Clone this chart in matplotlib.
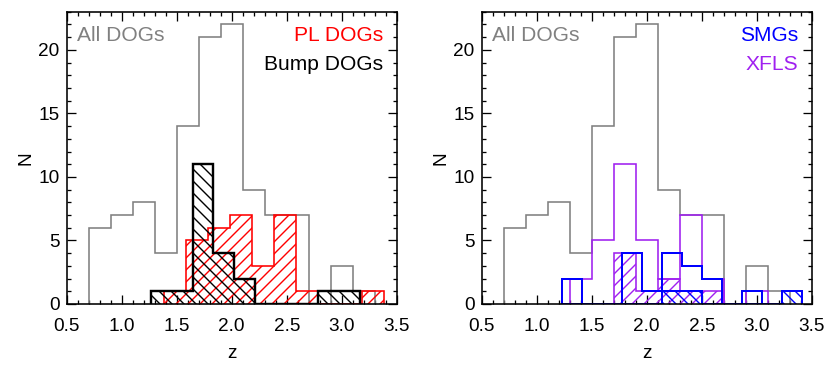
import numpy as np
import matplotlib
matplotlib.use('Agg')
import matplotlib.pyplot as plt
from matplotlib.ticker import MultipleLocator

# redshift histograms (bin edges, counts)
all_edges = [0.7, 0.9, 1.1, 1.3, 1.5, 1.7, 1.9, 2.1, 2.3, 2.5, 2.7, 2.9, 3.1, 3.3]
all_counts = [6, 7, 8, 4, 14, 21, 22, 9, 7, 7, 0, 3, 1]

pl_edges = [1.38, 1.58, 1.78, 1.98, 2.18, 2.38, 2.58, 2.78, 2.98, 3.18, 3.38]
pl_counts = [1, 5, 6, 7, 3, 7, 1, 0, 0, 1]

bump_edges = [1.264, 1.454, 1.644, 1.834, 2.024, 2.214, 2.404, 2.594, 2.784, 2.974, 3.164]
bump_counts = [1, 1, 11, 4, 2, 0, 0, 0, 1, 1]

xfls_edges = [1.3, 1.5, 1.7, 1.9, 2.1, 2.3, 2.5, 2.7, 2.9, 3.1]
xfls_counts = [2, 5, 11, 5, 2, 7, 2, 0, 1]
xfls_sub_counts = [0, 0, 4, 1, 2, 1, 1, 0, 0]

smg_edges = [1.227, 1.409, 1.591, 1.773, 1.955, 2.137, 2.319, 2.501, 2.683, 2.865, 3.047, 3.229, 3.411]
smg_counts = [2, 0, 0, 4, 1, 4, 3, 2, 0, 1, 0, 1]
smg_sub_counts = [0, 0, 0, 0, 0, 1, 1, 0, 0, 0, 0, 1]

xtick_vals = [0.5, 1.0, 1.5, 2.0, 2.5, 3.0, 3.5]
ytick_vals = [0, 5, 10, 15, 20]

GRAY = '#808080'
PURPLE = '#a020f0'

plt.rcParams['font.family'] = ['Liberation Sans', 'DejaVu Sans']
plt.rcParams['hatch.linewidth'] = 1.4


def hist(ax, edges, counts, color, lw, hatch=None, z=2):
  # outline plus optional hatched fill
  if hatch:
    ax.stairs(counts, edges, fill=True, facecolor='none', edgecolor=color,
              hatch=hatch, linewidth=0, zorder=z)
  ax.stairs(counts, edges, fill=False, color=color, linewidth=lw, zorder=z)


def style(ax):
  ax.set_xlim(0.5, 3.5)
  ax.set_ylim(0, 23)
  ax.set_xticks(xtick_vals)
  ax.set_xticklabels(['%.1f' % v for v in xtick_vals])
  ax.set_yticks(ytick_vals)
  ax.xaxis.set_minor_locator(MultipleLocator(0.1))
  ax.yaxis.set_minor_locator(MultipleLocator(1))
  ax.tick_params(which='both', direction='in', top=True, right=True, width=1.3, labelsize=19)
  ax.tick_params(which='major', length=9)
  ax.tick_params(which='minor', length=4)
  ax.tick_params(axis='x', pad=14)
  ax.tick_params(axis='y', pad=7)
  for s in ax.spines.values():
    s.set_linewidth(1.6)
    s.set_zorder(5)
  ax.set_xlabel('z', fontsize=19, labelpad=10)
  ax.set_ylabel('N', fontsize=19, labelpad=4)


fig = plt.figure(figsize=(830 / 72, 369 / 72), dpi=72)
ax1 = fig.add_axes([0.0804, 0.1762, 0.3976, 0.792])
ax2 = fig.add_axes([0.5804, 0.1762, 0.3976, 0.792])

# left: all, power-law and bump DOGs
hist(ax1, all_edges, all_counts, GRAY, 1.6)
hist(ax1, pl_edges, pl_counts, 'red', 1.6, hatch='//', z=3)
hist(ax1, bump_edges, bump_counts, 'black', 2.4, hatch='\\\\', z=4)
style(ax1)
ax1.text(0.03, 0.901, 'All DOGs', color=GRAY, fontsize=21, transform=ax1.transAxes, va='baseline')
ax1.text(0.958, 0.901, 'PL DOGs', color='red', fontsize=21, transform=ax1.transAxes, va='baseline', ha='right')
ax1.text(0.958, 0.800, 'Bump DOGs', color='black', fontsize=21, transform=ax1.transAxes, va='baseline', ha='right')

# right: all DOGs, SMGs and XFLS
hist(ax2, all_edges, all_counts, GRAY, 1.6)
hist(ax2, xfls_edges, xfls_counts, PURPLE, 1.6, z=3)
hist(ax2, xfls_edges, xfls_sub_counts, PURPLE, 1.6, hatch='//', z=3)
hist(ax2, smg_edges, smg_counts, 'blue', 2.0, z=4)
hist(ax2, smg_edges, smg_sub_counts, 'blue', 2.0, hatch='\\\\', z=4)
style(ax2)
ax2.text(0.03, 0.901, 'All DOGs', color=GRAY, fontsize=21, transform=ax2.transAxes, va='baseline')
ax2.text(0.959, 0.901, 'SMGs', color='blue', fontsize=21, transform=ax2.transAxes, va='baseline', ha='right')
ax2.text(0.959, 0.800, 'XFLS', color=PURPLE, fontsize=21, transform=ax2.transAxes, va='baseline', ha='right')

fig.savefig('out.png', dpi=72)
